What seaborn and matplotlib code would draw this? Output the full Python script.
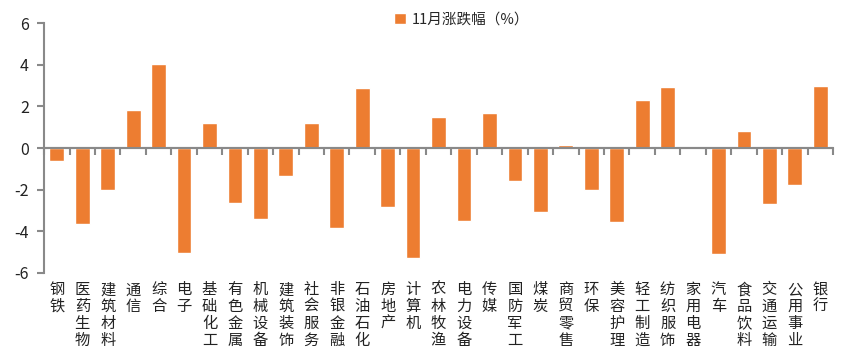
import matplotlib
matplotlib.use("Agg")
import matplotlib.pyplot as plt
import seaborn as sns
import pandas as pd
import numpy as np

categories = ["钢铁", "医药生物", "建筑材料", "通信", "综合", "电子", "基础化工", "有色金属",
              "机械设备", "建筑装饰", "社会服务", "非银金融", "石油石化", "房地产", "计算机",
              "农林牧渔", "电力设备", "传媒", "国防军工", "煤炭", "商贸零售", "环保", "美容护理",
              "轻工制造", "纺织服饰", "家用电器", "汽车", "食品饮料", "交通运输", "公用事业", "银行"]
values = [-0.62, -3.63, -2.0, 1.82, 4.03, -5.02, 1.2, -2.62,
          -3.39, -1.33, 1.2, -3.82, 2.88, -2.82, -5.26,
          1.5, -3.49, 1.68, -1.57, -3.06, 0.13, -2.0, -3.54,
          2.30, 2.93, 0.0, -5.07, 0.82, -2.67, -1.76, 2.98]
series_name = "11月涨跌幅（%）"
yticks = [-6, -4, -2, 0, 2, 4, 6]

sns.set_theme(style="white")
plt.rcParams['font.family'] = ['Noto Sans CJK SC', 'DejaVu Sans']
plt.rcParams['axes.unicode_minus'] = False

df = pd.DataFrame({"cat": categories, "val": values})

fig = plt.figure(figsize=(8.65, 3.55), dpi=100)
ax = fig.add_axes([0.051, 0.231, 0.912, 0.704])
sns.barplot(data=df, x="cat", y="val", color="#ED7D31", width=0.58,
            saturation=1, label=series_name, ax=ax)

grey = "#898989"
ax.axhline(0, color=grey, linewidth=1.5, zorder=3)
ax.set_ylim(yticks[0], yticks[-1])
ax.set_xlim(-0.5, len(categories) - 0.5)
ax.set_yticks(yticks)
ax.set_yticklabels([str(t) for t in yticks], fontsize=11.5, color="#222222")
ax.set_xlabel("")
ax.set_ylabel("")
ax.set_xticks(range(len(categories)))
ax.set_xticklabels(["\n".join(c) for c in categories], fontsize=11,
                   color="#222222", linespacing=0.98, va="top")
ax.tick_params(axis="x", length=0, pad=6)
ax.tick_params(axis="y", length=5, width=1.5, color=grey, direction="out", pad=6, left=True)
for s in ["top", "right", "bottom"]:
    ax.spines[s].set_visible(False)
ax.spines["left"].set_color(grey)
ax.spines["left"].set_linewidth(1.5)

sec = ax.secondary_xaxis((0 - yticks[0]) / (yticks[-1] - yticks[0]))
sec.set_alignment("bottom")
bounds = np.arange(len(categories) + 1) - 0.5
sec.set_xticks(bounds, labels=[""] * len(bounds))
sec.tick_params(axis="x", length=5, width=1.5, color=grey, direction="out")
for s in ["top", "bottom"]:
    sec.spines[s].set_color(grey)
    sec.spines[s].set_linewidth(1.5)

ax.legend(loc="center", bbox_to_anchor=(0.534, 0.944), bbox_transform=fig.transFigure,
          frameon=False, fontsize=10.5, handlelength=0.8, handleheight=0.8,
          handletextpad=0.4)

fig.savefig("out.png", dpi=100)
